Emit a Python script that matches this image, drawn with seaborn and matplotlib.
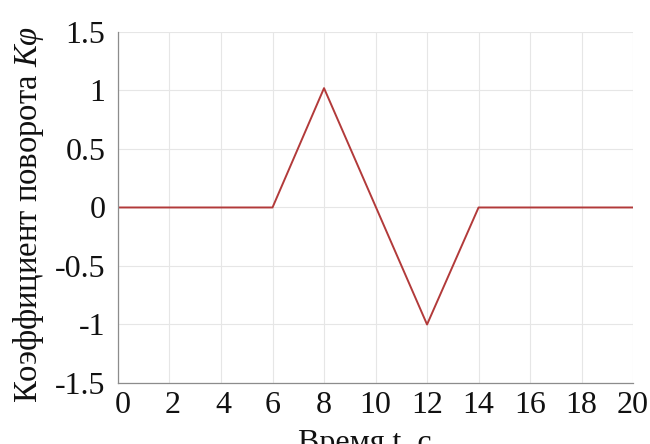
import matplotlib
matplotlib.use("Agg")
import matplotlib.pyplot as plt
import matplotlib.transforms as mtransforms
import seaborn as sns
import pandas as pd

time_s = [0, 6, 8, 12, 14, 20]
k_phi = [0, 0, 1.02, -1, 0, 0]
x_ticks = [0, 2, 4, 6, 8, 10, 12, 14, 16, 18, 20]
y_ticks = [-1.5, -1, -0.5, 0, 0.5, 1, 1.5]
y_tick_labels = ["-1.5", "-1", "-0.5", "0", "0.5", "1", "1.5"]

sns.set_theme(style="white")
plt.rcParams["font.family"] = ["Liberation Serif", "DejaVu Serif"]
plt.rcParams["mathtext.fontset"] = "custom"
plt.rcParams["mathtext.rm"] = "Liberation Serif"
plt.rcParams["mathtext.it"] = "Liberation Serif:italic"

df = pd.DataFrame({"t": time_s, "k": k_phi})

fig = plt.figure(figsize=(6.5, 4.44), dpi=100)
ax = fig.add_axes([0.1815, 0.1374, 0.7925, 0.7906])
sns.lineplot(data=df, x="t", y="k", ax=ax, color="#b23a3a", linewidth=1.4)
ax.set_xlabel("")
ax.set_ylabel("")

ax.set_xlim(0, 20)
ax.set_ylim(-1.5, 1.5)
ax.set_xticks(x_ticks)
ax.set_xticklabels([str(v) for v in x_ticks])
ax.set_yticks(y_ticks)
ax.set_yticklabels(y_tick_labels)
ax.grid(True, color="#e6e6e6", linewidth=0.8)
for s in ["top", "right"]:
    ax.spines[s].set_visible(False)
for s in ["left", "bottom"]:
    ax.spines[s].set_color("#8c8c8c")
    ax.spines[s].set_linewidth(0.9)
ax.tick_params(axis="both", direction="in", length=4, width=0.8, color="#8c8c8c",
               labelsize=23, labelcolor="#111111")
ax.tick_params(axis="x", pad=6)
ax.tick_params(axis="y", pad=9)

label_shift_px = [5, 3, 2, 0, 0, 0, 0, 0, 0, 0, 0]
for lbl, dx in zip(ax.get_xticklabels(), label_shift_px):
    if dx:
        lbl.set_transform(lbl.get_transform() +
                          mtransforms.ScaledTranslation(dx / 100, 0, fig.dpi_scale_trans))

# x label is partly clipped by the bottom edge, as in the reference
fig.text(365 / 650, 1 - 429 / 444, "Время t, c", fontsize=23, color="#111111",
         ha="center", va="top")
fig.text(29 / 650, 1 - 214 / 444, r"Коэффициент поворота $K\varphi$", fontsize=23.5,
         color="#111111", ha="center", va="center", rotation=90)

fig.savefig("out.png", dpi=100)
